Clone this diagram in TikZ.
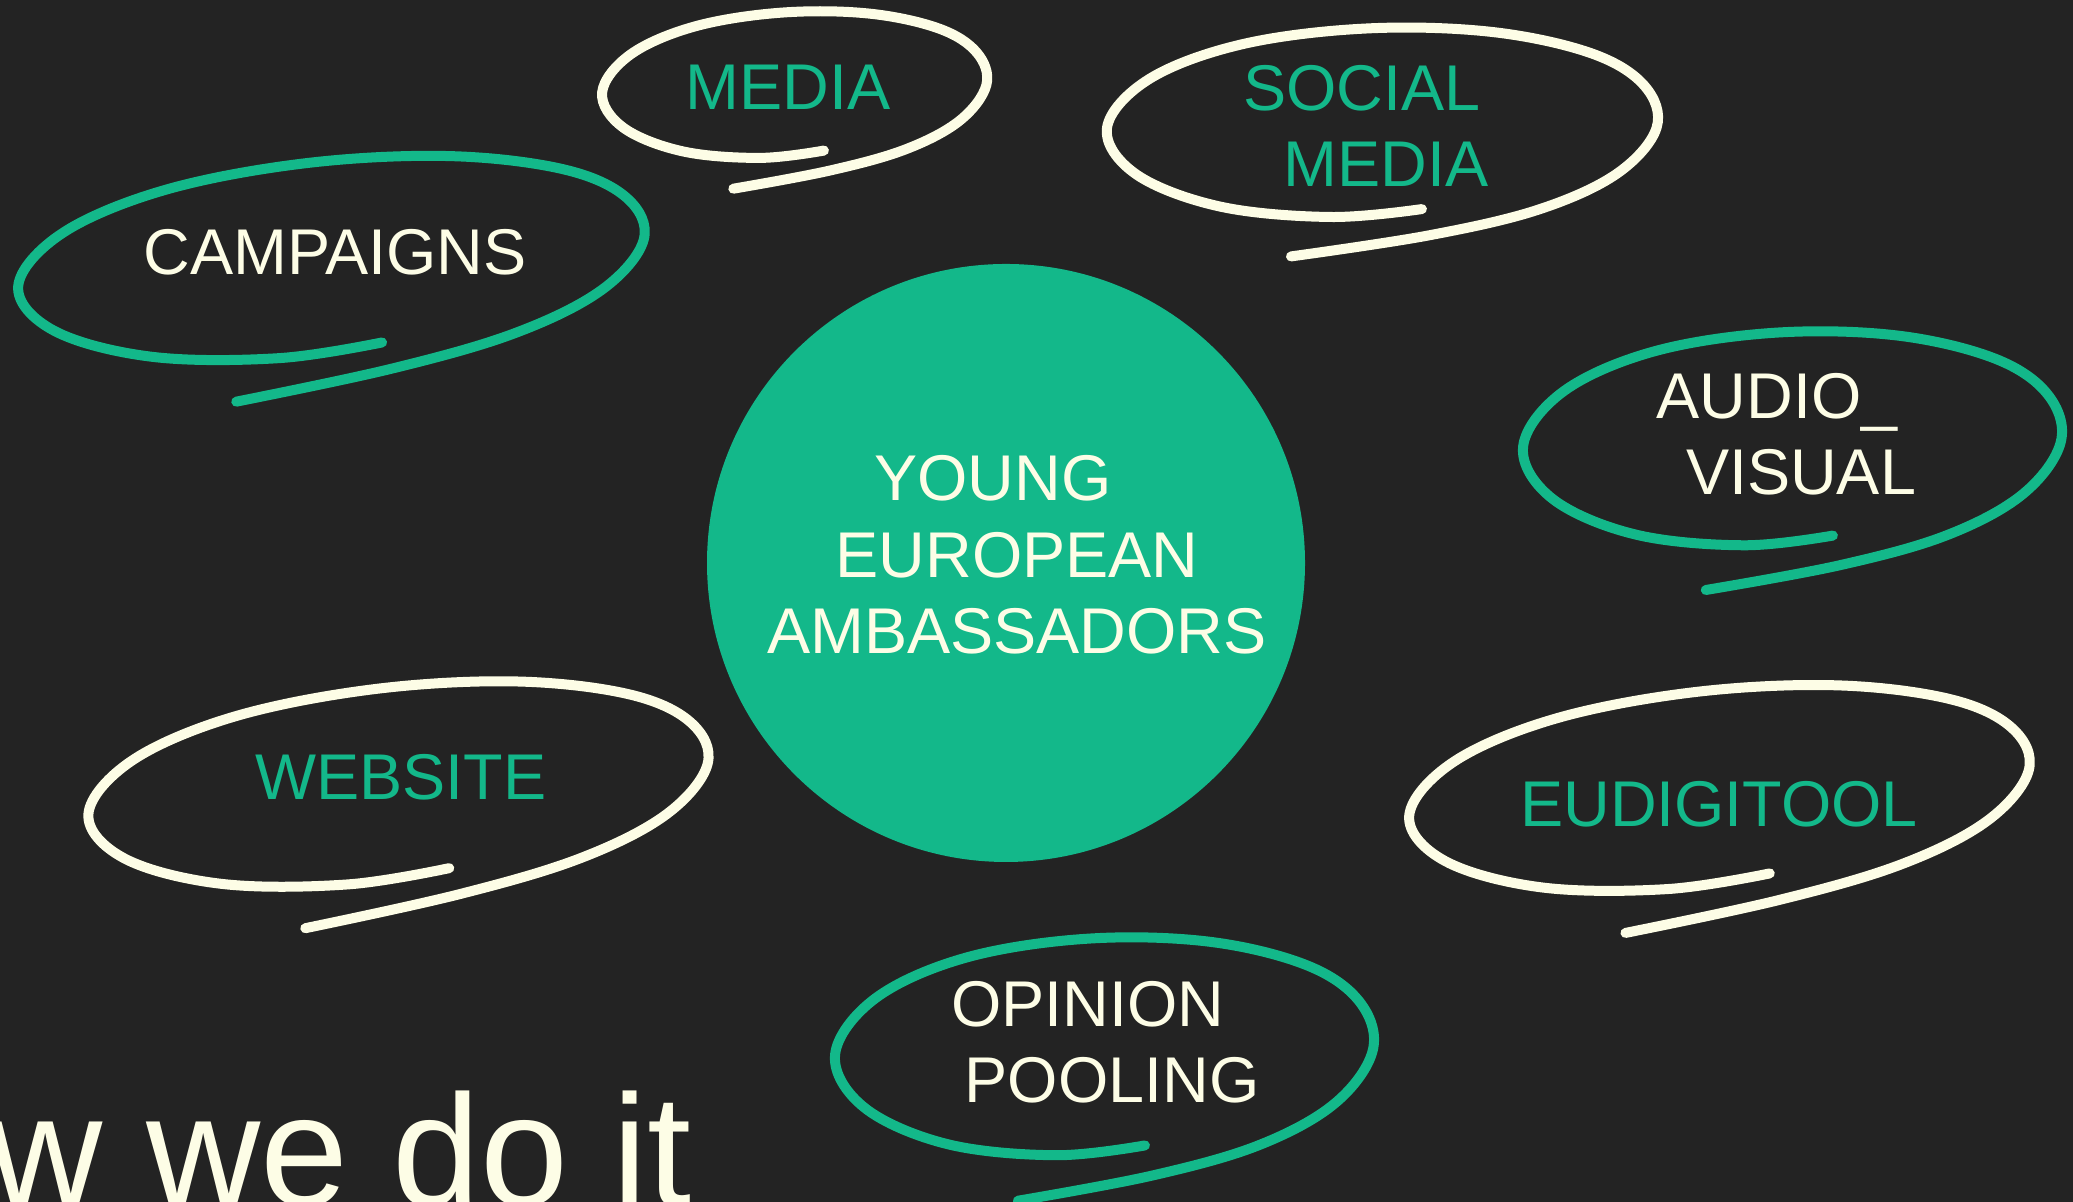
\documentclass[tikz,border=0pt]{standalone}
\usepackage{fontspec}
\setmainfont{Liberation Sans}
\definecolor{yeagreen}{HTML}{13B88A}
\definecolor{cream}{HTML}{FDFDE6}
\definecolor{slide}{HTML}{232323}
\newcommand{\trail}{\hspace*{0.48cm}}

\begin{document}
\begin{tikzpicture}[semithick, word/.style={font=\fontsize{18.4}{21.7}\selectfont, align=center, inner sep=0pt}]
            \useasboundingbox (0,0) rectangle (20.73,12.02);
            \fill[slide] (0,0) rectangle (20.73,12.02);
            \clip (0,0) rectangle (20.73,12.02);

            \newcommand{\lasso}[6]{
                \draw[#6, line width=1mm, line cap=round, line join=round, shift={(#1,#2)}, rotate=#5, xscale=#3, yscale=#4]
                    plot[smooth, tension=0.6] coordinates {(-0.35,-1.37) (0.15,-1.2) (0.55,-0.97) (0.84,-0.62) (0.99,-0.15) (0.95,0.3) (0.76,0.66) (0.4,0.92) (-0.05,1) (-0.5,0.88) (-0.84,0.55) (-1,0.05) (-0.9,-0.45) (-0.6,-0.82) (-0.2,-0.97) (0.13,-0.92)};
            }

            \node[circle, fill=yeagreen, minimum size=5.98cm, inner sep=0pt] (yea) at (10.06,6.39) {};
            \node[word, cream] (yeatext) at (10.17,6.47) {YOUNG\trail\\ EUROPEAN\\ AMBASSADORS};

            \lasso{3.32}{9.44}{3.15}{0.97}{6}{yeagreen};
            \node[word, cream] (campaigns) at (3.35,9.50) {CAMPAIGNS};

            \lasso{7.95}{11.17}{1.93}{0.73}{3.3}{cream};
            \node[word, yeagreen] (media) at (7.88,11.15) {MEDIA};

            \lasso{13.83}{10.79}{2.76}{0.95}{2}{cream};
            \node[word, yeagreen] (socialmedia) at (13.86,10.76) {SOCIAL\trail\\ MEDIA};

            \lasso{17.93}{7.63}{2.70}{1.07}{2.8}{yeagreen};
            \node[word, cream] (audiovisual) at (18.01,7.68) {AUDIO\_\trail\\ VISUAL};

            \lasso{3.99}{4.18}{3.12}{0.97}{6.4}{cream};
            \node[word, yeagreen] (website) at (4.01,4.25) {WEBSITE};

            \lasso{17.20}{4.14}{3.12}{0.98}{6}{cream};
            \node[word, yeagreen] (eudigitool) at (17.19,3.98) {EUDIGITOOL};

            \lasso{11.05}{1.55}{2.70}{1.09}{2.8}{yeagreen};
            \node[word, cream] (opinion) at (11.12,1.60) {OPINION\trail\\ POOLING};

            \node[cream, font=\fontsize{45}{54}\selectfont, anchor=base west, inner sep=0pt] (howwedo) at (-2.15,-0.04) {How we do it};
        \end{tikzpicture}
\end{document}
